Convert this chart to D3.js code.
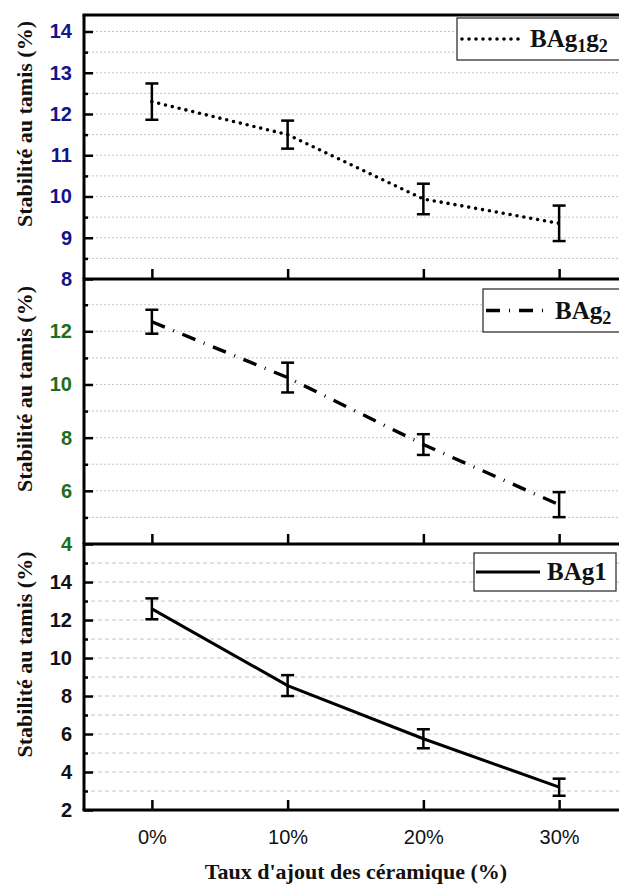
<!DOCTYPE html>
<html><head><meta charset="utf-8">
<script src="https://cdn.jsdelivr.net/npm/d3@7"></script>
<style>html,body{margin:0;padding:0;background:#fff;overflow:hidden}</style>
</head><body>
<svg id="chart" width="619" height="887"></svg>
<script>
// ---- data ----
const categories = ["0%", "10%", "20%", "30%"];
const bag1g2 = [12.3, 11.5, 9.94, 9.35];
const bag1g2Err = [0.44, 0.34, 0.37, 0.43];
const bag2 = [12.36, 10.26, 7.74, 5.48];
const bag2Err = [0.45, 0.56, 0.39, 0.47];
const bag1 = [12.59, 8.55, 5.75, 3.2];
const bag1Err = [0.55, 0.55, 0.5, 0.45];
const ticks1 = [8, 9, 10, 11, 12, 13, 14];
const minor1 = [8.5, 9.5, 10.5, 11.5, 12.5, 13.5];
const ticks2 = [4, 6, 8, 10, 12];
const minor2 = [5, 7, 9, 11, 13];
const ticks3 = [2, 4, 6, 8, 10, 12, 14];
const minor3 = [3, 5, 7, 9, 11, 13, 15];
const yTitle = "Stabilité au tamis (%)";
const xTitle = "Taux d'ajout des céramique (%)";

const svg = d3.select("#chart");
const left = 84, right = 627;
const x = d3.scaleLinear().domain([-0.5, 3.5]).range([left, right]);

const panels = [
  {vals: bag1g2, err: bag1g2Err, domain: [8, 14.4], range: [279, 15], ticks: ticks1, minor: minor1,
   color: "#14148a", dash: "0,7", width: 3.6, cap: "round",
   legend: {x0: 457, x1: 625, y0: 18, y1: 60, lx0: 462, lx1: 519, tx: 530, parts: [["BAg",0],["1",1],["g",0],["2",1]]}},
  {vals: bag2, err: bag2Err, domain: [4, 13.93], range: [544, 280], ticks: ticks2, minor: minor2,
   color: "#1b6e1b", dash: "14,9,1,9", width: 3.4, cap: "butt",
   legend: {x0: 483, x1: 625, y0: 289, y1: 332, lx0: 486, lx1: 549, tx: 555, parts: [["BAg",0],["2",1]]}},
  {vals: bag1, err: bag1Err, domain: [2, 15.95], range: [810, 545], ticks: ticks3, minor: minor3,
   color: "#111", dash: null, width: 3, cap: "butt",
   legend: {x0: 474, x1: 616, y0: 553, y1: 591, lx0: 476, lx1: 540, tx: 547, parts: [["BAg1",0]]}}
];

panels.forEach((p, pi) => {
  const y = d3.scaleLinear().domain(p.domain).range(p.range);
  const g = svg.append("g");
  // gridlines
  const gridVals = p.ticks.concat(p.minor);
  g.selectAll("line.grid").data(gridVals).join("line")
    .attr("x1", left).attr("x2", right)
    .attr("y1", d => y(d)).attr("y2", d => y(d))
    .attr("stroke", "#c4c4c4").attr("stroke-width", 1)
    .attr("stroke-dasharray", pi === 2 ? "4,3" : "2,2");
  // minor ticks
  g.append("g").attr("transform", `translate(${left},0)`)
    .call(d3.axisLeft(y).tickValues(p.minor).tickSize(-4).tickFormat(""))
    .call(a => a.select(".domain").remove())
    .call(a => a.selectAll("line").attr("stroke", "#000").attr("stroke-width", 2.5));
  // major ticks
  g.append("g").attr("transform", `translate(${left},0)`)
    .call(d3.axisLeft(y).tickValues(p.ticks).tickSize(-9).tickPadding(12).tickFormat(d3.format("d")))
    .call(a => a.select(".domain").remove())
    .call(a => a.selectAll("line").attr("stroke", "#000").attr("stroke-width", 2.5))
    .call(a => a.selectAll("text").attr("fill", p.color)
      .attr("font-family", "Liberation Sans, Arial, sans-serif")
      .attr("font-weight", "bold").attr("font-size", 20));
  // x ticks
  g.append("g").attr("transform", `translate(0,${p.range[0]})`)
    .call(d3.axisBottom(x).tickValues([0, 1, 2, 3]).tickSize(-10).tickPadding(20)
      .tickFormat(pi === 2 ? (d => categories[d]) : ""))
    .call(a => a.select(".domain").remove())
    .call(a => a.selectAll("line").attr("stroke", "#000").attr("stroke-width", 2.5))
    .call(a => a.selectAll("text").attr("fill", "#111")
      .attr("font-family", "Liberation Sans, Arial, sans-serif").attr("font-size", 20));
  // frame lines
  g.append("line").attr("x1", left - 1.5).attr("x2", right).attr("y1", p.range[0]).attr("y2", p.range[0])
    .attr("stroke", "#000").attr("stroke-width", 3);
  if (pi === 0) g.append("line").attr("x1", left - 1.5).attr("x2", right).attr("y1", p.range[1]).attr("y2", p.range[1])
    .attr("stroke", "#000").attr("stroke-width", 3);
  g.append("line").attr("x1", left).attr("x2", left).attr("y1", p.range[0]).attr("y2", p.range[1])
    .attr("stroke", "#000").attr("stroke-width", 3);

  // data line
  const line = d3.line().x((d, i) => x(i)).y(d => y(d));
  g.append("path").datum(p.vals).attr("d", line)
    .attr("fill", "none").attr("stroke", "#000").attr("stroke-width", p.width)
    .attr("stroke-linecap", p.cap)
    .attr("stroke-dasharray", p.dash);
  // error bars
  const eb = g.selectAll("g.eb").data(p.vals).join("g");
  eb.append("line").attr("x1", (d, i) => x(i)).attr("x2", (d, i) => x(i))
    .attr("y1", (d, i) => y(d + p.err[i])).attr("y2", (d, i) => y(d - p.err[i]))
    .attr("stroke", "#000").attr("stroke-width", 2.5);
  [1, -1].forEach(s => {
    eb.append("line").attr("x1", (d, i) => x(i) - 6.5).attr("x2", (d, i) => x(i) + 6.5)
      .attr("y1", (d, i) => y(d + s * p.err[i])).attr("y2", (d, i) => y(d + s * p.err[i]))
      .attr("stroke", "#000").attr("stroke-width", 2.5);
  });

  // legend
  const L = p.legend;
  g.append("rect").attr("x", L.x0).attr("y", L.y0).attr("width", L.x1 - L.x0).attr("height", L.y1 - L.y0)
    .attr("fill", "#fff").attr("stroke", "#333").attr("stroke-width", 1.3);
  const ly = (L.y0 + L.y1) / 2;
  g.append("line").attr("x1", L.lx0).attr("x2", L.lx1).attr("y1", ly).attr("y2", ly)
    .attr("stroke", "#000").attr("stroke-width", p.width).attr("stroke-linecap", p.cap)
    .attr("stroke-dasharray", p.dash);
  const t = g.append("text").attr("x", L.tx).attr("y", ly + 8)
    .attr("font-family", "Liberation Serif, Times New Roman, serif")
    .attr("font-weight", "bold").attr("font-size", 25).attr("fill", "#111");
  let prevSub = false;
  L.parts.forEach(([s, sub]) => {
    const dy = sub ? 5 : (prevSub ? -5 : 0);
    t.append("tspan").text(s).attr("font-size", sub ? 18 : 25).attr("dy", dy);
    prevSub = !!sub;
  });

  // y title
  const cy = (p.range[0] + p.range[1]) / 2 - 23;
  svg.append("text").attr("transform", `translate(32,${cy}) rotate(-90)`)
    .attr("text-anchor", "middle")
    .attr("font-family", "Liberation Serif, Times New Roman, serif")
    .attr("font-weight", "bold").attr("font-size", 22).attr("fill", "#111")
    .text(yTitle);
});

svg.append("text").attr("x", 356).attr("y", 879).attr("text-anchor", "middle")
  .attr("font-family", "Liberation Serif, Times New Roman, serif")
  .attr("font-weight", "bold").attr("font-size", 22).attr("fill", "#111")
  .text(xTitle);
</script>
</body></html>
